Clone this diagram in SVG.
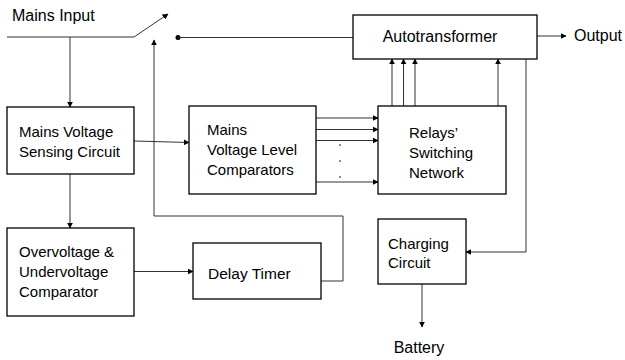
<svg xmlns="http://www.w3.org/2000/svg" width="625" height="360" viewBox="0 0 625 360">
<style>
.box{fill:#fff;stroke:#000;stroke-width:1.3}
.ln{fill:none;stroke:#333;stroke-width:1}
text{font-family:"Liberation Sans",Arial,sans-serif;font-size:15px;fill:#000}
.lg{font-size:16px}
</style>
<defs>
<marker id="ah" viewBox="0 0 10 10" refX="9" refY="5" markerWidth="6" markerHeight="6" markerUnits="userSpaceOnUse" orient="auto">
<path d="M0,0 L10,5 L0,10 z" fill="#000"/>
</marker>
</defs>
<rect width="625" height="360" fill="#fff"/>
<g id="connectors">
<line class="ln" x1="7" y1="37" x2="134" y2="37"/>
<line class="ln" x1="134" y1="37" x2="168" y2="14" marker-end="url(#ah)"/>
<line class="ln" x1="70" y1="37" x2="70" y2="107" marker-end="url(#ah)"/>
<circle cx="178" cy="37.5" r="2.5" fill="#000"/>
<line class="ln" x1="178" y1="37.5" x2="353" y2="37.5"/>
<line class="ln" x1="537" y1="36" x2="566" y2="36" marker-end="url(#ah)"/>
<line class="ln" x1="392" y1="106" x2="392" y2="59" marker-end="url(#ah)"/>
<line class="ln" x1="403.5" y1="106" x2="403.5" y2="59" marker-end="url(#ah)"/>
<line class="ln" x1="415" y1="106" x2="415" y2="59" marker-end="url(#ah)"/>
<line class="ln" x1="498" y1="106" x2="498" y2="59" marker-end="url(#ah)"/>
<polyline class="ln" points="526,59 526,252 466,252" marker-end="url(#ah)"/>
<line class="ln" x1="134" y1="141" x2="189" y2="142.5" marker-end="url(#ah)"/>
<line class="ln" x1="316" y1="118" x2="378" y2="118" marker-end="url(#ah)"/>
<line class="ln" x1="316" y1="129.5" x2="378" y2="129.5" marker-end="url(#ah)"/>
<line class="ln" x1="316" y1="140.5" x2="378" y2="140.5" marker-end="url(#ah)"/>
<line class="ln" x1="316" y1="182" x2="378" y2="182" marker-end="url(#ah)"/>
<circle cx="340" cy="145" r="0.8" fill="#000"/>
<circle cx="340" cy="161" r="0.8" fill="#000"/>
<circle cx="340" cy="177" r="0.8" fill="#000"/>
<polyline class="ln" points="321,281 343,281 343,216 154,216 154,40" marker-end="url(#ah)"/>
<line class="ln" x1="70" y1="174" x2="70" y2="228" marker-end="url(#ah)"/>
<line class="ln" x1="134" y1="271.5" x2="193" y2="271.5" marker-end="url(#ah)"/>
<line class="ln" x1="422" y1="284" x2="422" y2="327" marker-end="url(#ah)"/>
</g>
<g id="mains-input"><text class="lg" x="12" y="21">Mains Input</text></g>
<g id="autotransformer">
<rect class="box" x="353" y="15" width="184" height="44"/>
<text class="lg" x="440" y="42" text-anchor="middle">Autotransformer</text>
</g>
<g id="output"><text class="lg" x="574" y="41">Output</text></g>
<g id="sensing">
<rect class="box" x="7" y="107" width="127" height="67"/>
<text x="19" y="137">Mains Voltage</text>
<text x="19" y="157">Sensing Circuit</text>
</g>
<g id="comparators">
<rect class="box" x="189" y="106" width="127" height="88"/>
<text x="207" y="135">Mains</text>
<text x="207" y="155">Voltage Level</text>
<text x="207" y="175">Comparators</text>
</g>
<g id="relays">
<rect class="box" x="378" y="106" width="128" height="88"/>
<text x="409" y="138">Relays’</text>
<text x="409" y="158">Switching</text>
<text x="409" y="178">Network</text>
</g>
<g id="overvoltage">
<rect class="box" x="7" y="228" width="127" height="88"/>
<text x="19" y="257">Overvoltage &amp;</text>
<text x="19" y="277">Undervoltage</text>
<text x="19" y="297">Comparator</text>
</g>
<g id="delay">
<rect class="box" x="193" y="243" width="128" height="56"/>
<text x="208" y="279" style="font-size:15.5px">Delay Timer</text>
</g>
<g id="charging">
<rect class="box" x="378" y="219" width="88" height="65"/>
<text x="388" y="249">Charging</text>
<text x="388" y="268">Circuit</text>
</g>
<g id="battery"><text class="lg" x="419" y="353" text-anchor="middle">Battery</text></g>
</svg>
